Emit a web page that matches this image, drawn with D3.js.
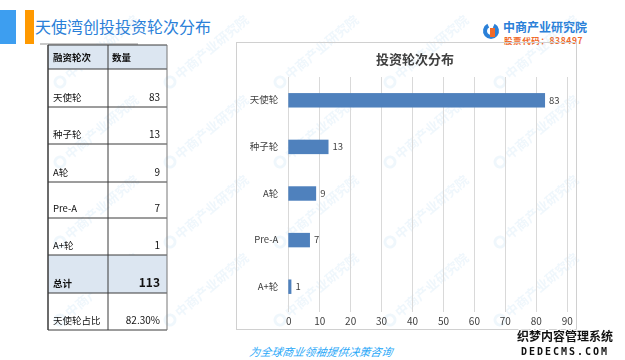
<!DOCTYPE html>
<html><head><meta charset="utf-8">
<script src="https://cdn.jsdelivr.net/npm/d3@7/dist/d3.min.js"></script>
<style>
html,body{margin:0;padding:0;background:#fff;}
svg{display:block;font-family:"Noto Sans CJK SC","Noto Sans",sans-serif;}
</style></head>
<body>
<svg id="c" width="625" height="360"></svg>
<script>
const categories = ["天使轮","种子轮","A轮","Pre-A","A+轮"];
const values = [83, 13, 9, 7, 1];
const xTicks = [0,10,20,30,40,50,60,70,80,90];
const tableHeader = ["融资轮次","数量"];
const totalRow = ["总计","113"];
const ratioRow = ["天使轮占比","82.30%"];
const pageTitle = "天使湾创投投资轮次分布";
const chartTitle = "投资轮次分布";

const svg = d3.select("#c");
const F = '"Noto Sans CJK SC","Noto Sans",sans-serif';

// header bars
svg.append("rect").attr("x",0).attr("y",10).attr("width",16).attr("height",34).attr("fill","#3d9ef0");
svg.append("rect").attr("x",25).attr("y",10).attr("width",9).attr("height",34).attr("fill","#ff9900");
svg.append("text").attr("x",35).attr("y",33).attr("font-size",16).attr("fill","#2a80d8")
  .attr("font-family",F).text(pageTitle);
svg.append("rect").attr("x",40).attr("y",43).attr("width",98).attr("height",2).attr("fill","#c8c8c8");

// logo
const lg = svg.append("g");
lg.append("path").attr("d", d3.arc()({innerRadius:4,outerRadius:8,startAngle:Math.PI*0.15,endAngle:Math.PI*1.85}))
  .attr("transform","translate(491,31)").attr("fill","#2a80d8");
lg.append("rect").attr("x",490).attr("y",28).attr("width",5).attr("height",9).attr("fill","#f06a2a");
lg.append("text").attr("x",503).attr("y",32).attr("font-size",12).attr("font-weight","bold").attr("fill","#2a80d8").attr("font-family",F).text("中商产业研究院");
lg.append("text").attr("x",504).attr("y",44).attr("font-size",8.5).attr("font-weight","bold").attr("fill","#f06a2a").attr("letter-spacing",0.6).attr("font-family",F).text("股票代码：838497");

// watermarks (behind)
const wm = svg.append("g").attr("opacity",0.14);
const wmPos = [];
[60,170,280,390,500].forEach(x=>[82,162,242,320].forEach(y=>wmPos.push([x,y])));
wmPos.forEach(([x,y])=>{
  const g = wm.append("g").attr("transform",`translate(${x},${y}) rotate(-40)`);
  g.append("circle").attr("cx",0).attr("cy",0).attr("r",5).attr("fill","none").attr("stroke","#8ec3ea").attr("stroke-width",3);
  g.append("text").attr("x",9).attr("y",5).attr("font-size",13).attr("font-weight","bold").attr("fill","#8ec3ea").attr("font-family",F).text("中商产业研究院");
});

// table
const tX0 = 48, tX1 = 108, tX2 = 167;
const rowEdges = [45,69,107,144,182,218,255,293,330];
const rows = [tableHeader].concat(categories.map((c,i)=>[c,String(values[i])])).concat([totalRow, ratioRow]);
const tg = svg.append("g");
rows.forEach((r,i)=>{
  const y0=rowEdges[i], y1=rowEdges[i+1];
  const shaded = (i===0 || i===6);
  tg.append("rect").attr("x",tX0).attr("y",y0).attr("width",tX2-tX0).attr("height",y1-y0)
    .attr("fill", shaded ? "#dce6f1" : "none");
  const bold = (i===0 || i===6);
  const ty = i===0 ? (y0+y1)/2+4 : y1-6;
  tg.append("text").attr("x",tX0+5).attr("y",ty).attr("font-size",9.5).attr("fill","#111")
    .attr("font-weight",bold?"bold":"normal").attr("font-family",F).text(r[0]);
  if(i===0){
    tg.append("text").attr("x",tX1+4).attr("y",ty).attr("font-size",9.5).attr("fill","#111")
      .attr("font-weight","bold").attr("font-family",F).text(r[1]);
  } else {
    tg.append("text").attr("x",tX2-7).attr("y",ty).attr("text-anchor","end")
      .attr("font-size", i===6?12:10).attr("fill","#111")
      .attr("font-weight",bold?"bold":"normal").attr("font-family",F).text(r[1]);
  }
});
rowEdges.forEach(y=>tg.append("line").attr("x1",tX0).attr("x2",tX2).attr("y1",y).attr("y2",y).attr("stroke","#3a3a3a").attr("stroke-width",1));
[tX0,tX1,tX2].forEach((x,i)=>tg.append("line").attr("x1",x).attr("x2",x).attr("y1",45).attr("y2",330)
  .attr("stroke", i===2?"#777":"#3a3a3a").attr("stroke-width", i===0?1.5:1));

// chart frame
svg.append("rect").attr("x",236.5).attr("y",42.5).attr("width",340).attr("height",287).attr("fill","none").attr("stroke","#d0d0d0");
svg.append("text").attr("x",415).attr("y",64).attr("text-anchor","middle").attr("font-size",13).attr("font-weight","bold")
  .attr("fill","#404040").attr("font-family",F).text(chartTitle);

const x = d3.scaleLinear().domain([0,90]).range([288.3,566.7]);
const y = d3.scaleBand().domain(categories).range([77,310]).paddingInner(0.69).paddingOuter(0.345);

const cg = svg.append("g");
cg.selectAll("line.grid").data(xTicks).join("line").attr("class","grid")
  .attr("x1",d=>Math.round(x(d))+0.5).attr("x2",d=>Math.round(x(d))+0.5).attr("y1",77).attr("y2",312)
  .attr("stroke","#d9d9d9").attr("stroke-width",1);

const xAxis = d3.axisBottom(x).tickValues(xTicks).tickSize(0).tickPadding(0);
const ax = cg.append("g").attr("transform","translate(0,318)").call(xAxis);
ax.select(".domain").remove();
ax.selectAll("text").attr("font-size",10).attr("fill","#404040").attr("font-family",F).attr("dy","0.7em");

const yAxis = d3.axisLeft(y).tickSize(0).tickPadding(10);
const ay = cg.append("g").attr("transform","translate(288.3,0)").call(yAxis);
ay.select(".domain").remove();
ay.selectAll("text").attr("font-size",9.5).attr("fill","#404040").attr("font-family",F);

cg.selectAll("rect.bar").data(categories).join("rect").attr("class","bar")
  .attr("x",x(0)).attr("y",d=>y(d)).attr("height",y.bandwidth())
  .attr("width",(d,i)=>x(values[i])-x(0)).attr("fill","#4f81bd");

cg.selectAll("text.val").data(categories).join("text").attr("class","val")
  .attr("x",(d,i)=>x(values[i])+4).attr("y",d=>y(d)+y.bandwidth()/2).attr("dy","0.35em")
  .attr("font-size",9.5).attr("fill","#404040").attr("font-family",F).text((d,i)=>values[i]);

// footer
svg.append("text").attr("x",321).attr("y",356).attr("text-anchor","middle").attr("font-size",11).attr("font-style","italic")
  .attr("fill","#2aa8f8").attr("font-family",F).attr("transform","skewX(-10) translate(62,0)").text("为全球商业领袖提供决策咨询");

// dedecms watermark
const dd = svg.append("g");
dd.append("text").attr("x",565).attr("y",341).attr("text-anchor","middle").attr("font-size",12).attr("font-weight","bold")
  .attr("fill","#111").attr("stroke","#fff").attr("stroke-width",2).attr("paint-order","stroke").attr("font-family",F).text("织梦内容管理系统");
dd.append("text").attr("x",565).attr("y",355).attr("text-anchor","middle").attr("font-size",10).attr("font-weight","bold").attr("letter-spacing",2)
  .attr("fill","#111").attr("stroke","#fff").attr("stroke-width",2).attr("paint-order","stroke").attr("font-family",'"DejaVu Sans Mono",monospace').text("DEDECMS.COM");
</script>
</body></html>
